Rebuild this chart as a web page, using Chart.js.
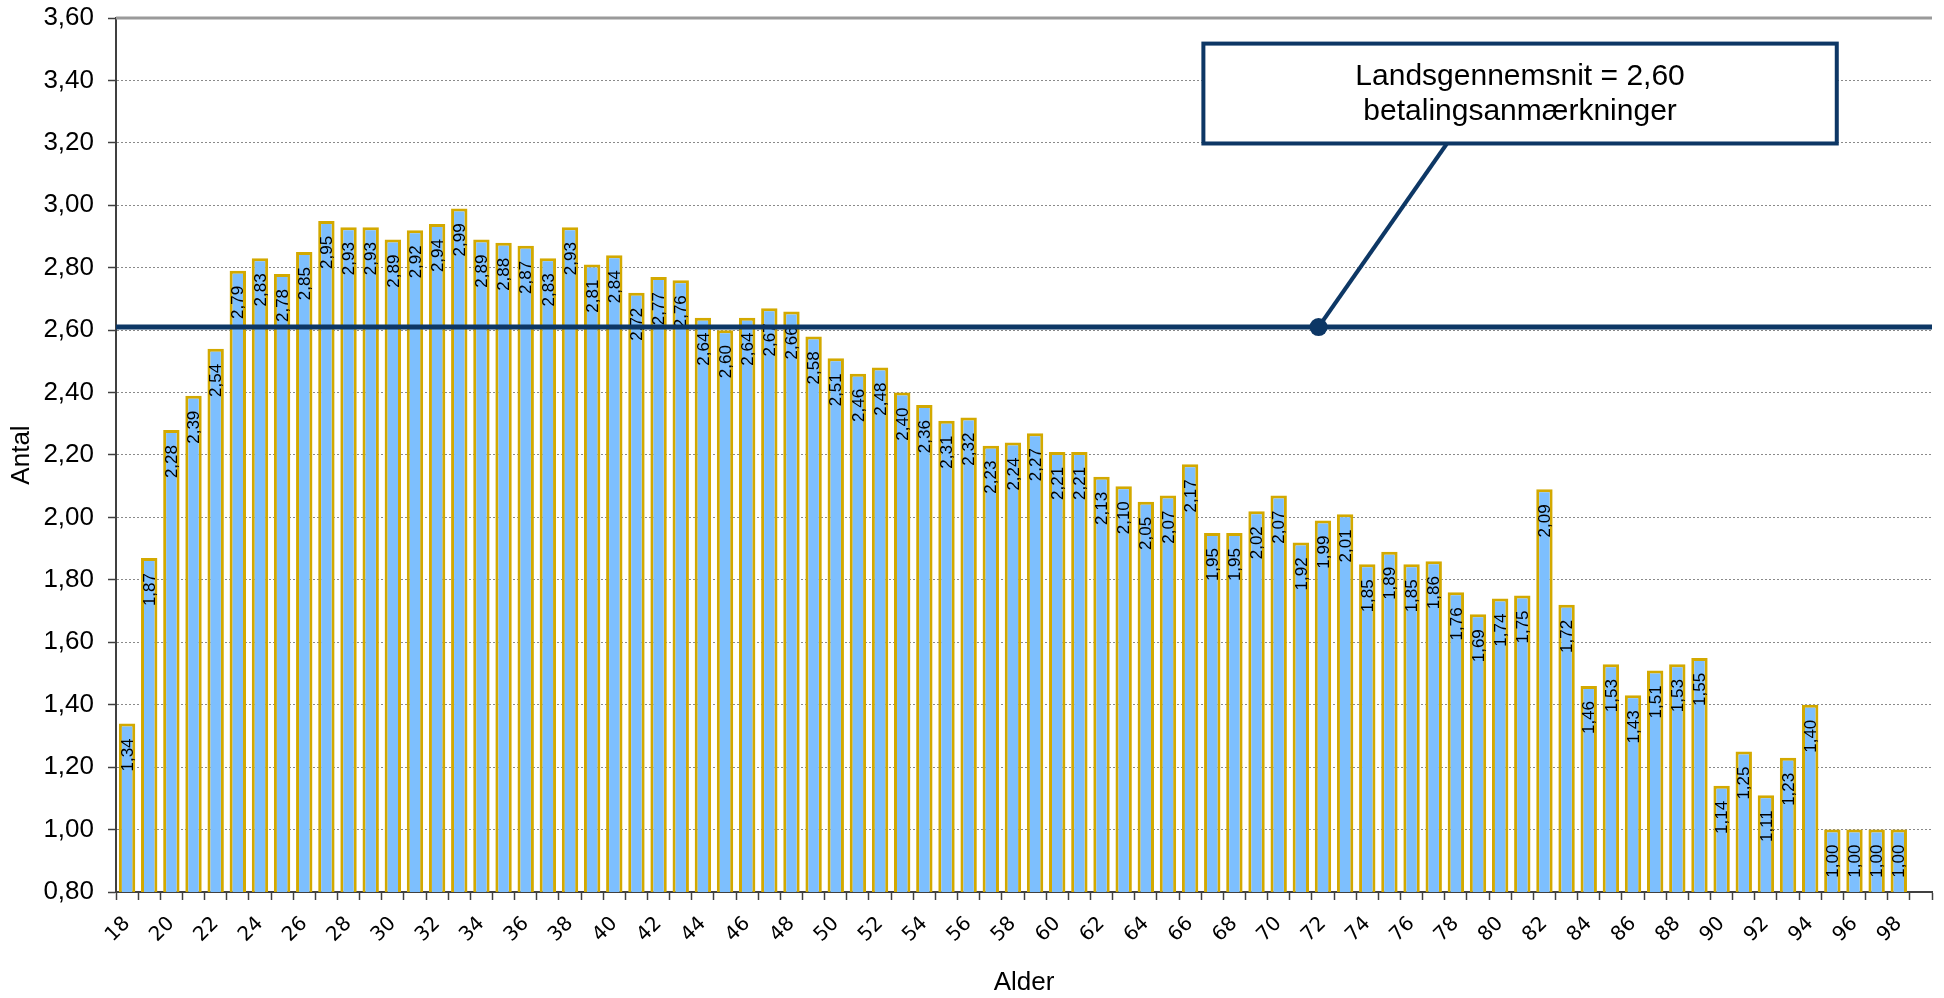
<!DOCTYPE html>
<html>
<head>
<meta charset="utf-8">
<script src="https://cdn.jsdelivr.net/npm/chart.js@4.4.1/dist/chart.umd.min.js"></script>
<style>
  html, body { margin: 0; padding: 0; background: #fff; }
  #wrap { width: 1944px; height: 998px; }
</style>
</head>
<body>
<div id="wrap"><canvas id="ageChart"></canvas></div>
<script>
// ages 18-99 (99 has no value)
const ages = [18, 19, 20, 21, 22, 23, 24, 25, 26, 27, 28, 29, 30, 31, 32, 33, 34, 35, 36, 37,
  38, 39, 40, 41, 42, 43, 44, 45, 46, 47, 48, 49, 50, 51, 52, 53, 54, 55, 56, 57,
  58, 59, 60, 61, 62, 63, 64, 65, 66, 67, 68, 69, 70, 71, 72, 73, 74, 75, 76, 77,
  78, 79, 80, 81, 82, 83, 84, 85, 86, 87, 88, 89, 90, 91, 92, 93, 94, 95, 96, 97,
  98, 99];

const antal = [1.34, 1.87, 2.28, 2.39, 2.54, 2.79, 2.83, 2.78, 2.85, 2.95, 2.93, 2.93, 2.89, 2.92, 2.94, 2.99, 2.89, 2.88, 2.87, 2.83,
  2.93, 2.81, 2.84, 2.72, 2.77, 2.76, 2.64, 2.60, 2.64, 2.67, 2.66, 2.58, 2.51, 2.46, 2.48, 2.40, 2.36, 2.31, 2.32, 2.23,
  2.24, 2.27, 2.21, 2.21, 2.13, 2.10, 2.05, 2.07, 2.17, 1.95, 1.95, 2.02, 2.07, 1.92, 1.99, 2.01, 1.85, 1.89, 1.85, 1.86,
  1.76, 1.69, 1.74, 1.75, 2.09, 1.72, 1.46, 1.53, 1.43, 1.51, 1.53, 1.55, 1.14, 1.25, 1.11, 1.23, 1.40, 1.00, 1.00, 1.00,
  1.00, null];

// national average and where the line sits on the picture
const avgText = ['Landsgennemsnit = 2,60', 'betalingsanmærkninger'];
const avgLevel = 2.61;

// y axis range
const yMin = 0.8, yMax = 3.6, yStep = 0.2;

const fmt = v => v.toFixed(2).replace('.', ',');
const navy = '#0d3765';

const barLabels = {
  id: 'barLabels',
  afterDatasetsDraw(chart) {
    const ctx = chart.ctx;
    const meta = chart.getDatasetMeta(0);
    ctx.save();
    ctx.font = '17px "Liberation Sans"';
    ctx.fillStyle = '#000';
    ctx.textAlign = 'right';
    ctx.textBaseline = 'middle';
    meta.data.forEach((bar, i) => {
      if (antal[i] == null) return;
      ctx.save();
      ctx.translate(bar.x + 1, bar.y + 15);
      ctx.rotate(-Math.PI / 2);
      ctx.fillText(fmt(antal[i]), 0, 0);
      ctx.restore();
    });
    ctx.restore();
  }
};

// top frame line + average line + callout box
const avgCallout = {
  id: 'avgCallout',
  afterDraw(chart) {
    const {ctx, chartArea: a, scales: {x, y}} = chart;
    ctx.save();
    // top frame
    ctx.strokeStyle = '#9a9a9a';
    ctx.lineWidth = 3;
    ctx.beginPath();
    ctx.moveTo(a.left, a.top);
    ctx.lineTo(a.right, a.top);
    ctx.stroke();

    // average line
    const ly = y.getPixelForValue(avgLevel);
    ctx.strokeStyle = navy;
    ctx.lineWidth = 5;
    ctx.beginPath();
    ctx.moveTo(a.left, ly);
    ctx.lineTo(a.right, ly);
    ctx.stroke();

    // callout box, placed by category index / value
    const bx1 = x.getPixelForValue(48.6), bx2 = x.getPixelForValue(77.2);
    const by1 = y.getPixelForValue(3.518), by2 = y.getPixelForValue(3.198);
    const dotX = x.getPixelForValue(53.8);
    const legX = x.getPixelForValue(59.6);

    ctx.lineWidth = 4;
    ctx.beginPath();
    ctx.moveTo(dotX, ly);
    ctx.lineTo(legX, by2);
    ctx.stroke();

    ctx.fillStyle = navy;
    ctx.beginPath();
    ctx.arc(dotX, ly, 9, 0, Math.PI * 2);
    ctx.fill();

    ctx.fillStyle = '#fff';
    ctx.fillRect(bx1, by1, bx2 - bx1, by2 - by1);
    ctx.strokeRect(bx1, by1, bx2 - bx1, by2 - by1);

    ctx.fillStyle = '#000';
    ctx.font = '30px "Liberation Sans"';
    ctx.textAlign = 'center';
    ctx.textBaseline = 'middle';
    const cx = (bx1 + bx2) / 2, cy = (by1 + by2) / 2;
    ctx.fillText(avgText[0], cx, cy - 17);
    ctx.fillText(avgText[1], cx, cy + 18);
    ctx.restore();
  }
};

const ctx = document.getElementById('ageChart').getContext('2d');
new Chart(ctx, {
  type: 'bar',
  data: {
    labels: ages,
    datasets: [{
      data: antal,
      backgroundColor: '#7dbffe',
      borderColor: '#d3a900',
      borderWidth: 3,
      barPercentage: 0.74,
      categoryPercentage: 1.0
    }]
  },
  options: {
    responsive: true,
    maintainAspectRatio: false,
    animation: false,
    layout: { padding: { top: 18, right: 12, left: 0, bottom: 0 } },
    plugins: {
      legend: { display: false },
      tooltip: { enabled: false }
    },
    scales: {
      x: {
        afterFit: s => { s.height = 106; s.paddingLeft = 0; s.paddingRight = 0; },
        border: { color: '#404040', width: 2 },
        grid: {
          offset: true,
          drawOnChartArea: false,
          drawTicks: true,
          tickLength: 8,
          tickColor: '#404040',
          tickWidth: 1.5
        },
        ticks: {
          autoSkip: false,
          minRotation: 45,
          maxRotation: 45,
          padding: 12,
          color: '#000',
          font: { family: 'DejaVu Sans', size: 20 },
          callback: (v, i) => (i % 2 === 0 ? ages[i] : '')
        },
        title: {
          display: true,
          text: 'Alder',
          color: '#000',
          font: { family: 'Liberation Sans', size: 26 },
          padding: { top: 0, bottom: 0 }
        }
      },
      y: {
        min: yMin,
        max: yMax,
        afterFit: s => { s.width = 116; s.paddingTop = 0; s.paddingBottom = 0; },
        border: { color: '#404040', width: 2, dash: [2, 2] },
        grid: {
          color: c => (Math.abs(c.tick.value - yMax) < 1e-6 ? 'rgba(0,0,0,0)' : '#8a8a8a'),
          lineWidth: 1,
          tickLength: 8,
          tickColor: '#404040',
          tickWidth: 1.5
        },
        ticks: {
          stepSize: yStep,
          padding: 14,
          color: '#000',
          font: { family: 'Liberation Sans', size: 26 },
          callback: v => fmt(v)
        },
        title: {
          display: true,
          text: 'Antal',
          color: '#000',
          font: { family: 'Liberation Sans', size: 26 },
          padding: { top: 6, bottom: 0 }
        }
      }
    }
  },
  plugins: [barLabels, avgCallout]
});
</script>
</body>
</html>
